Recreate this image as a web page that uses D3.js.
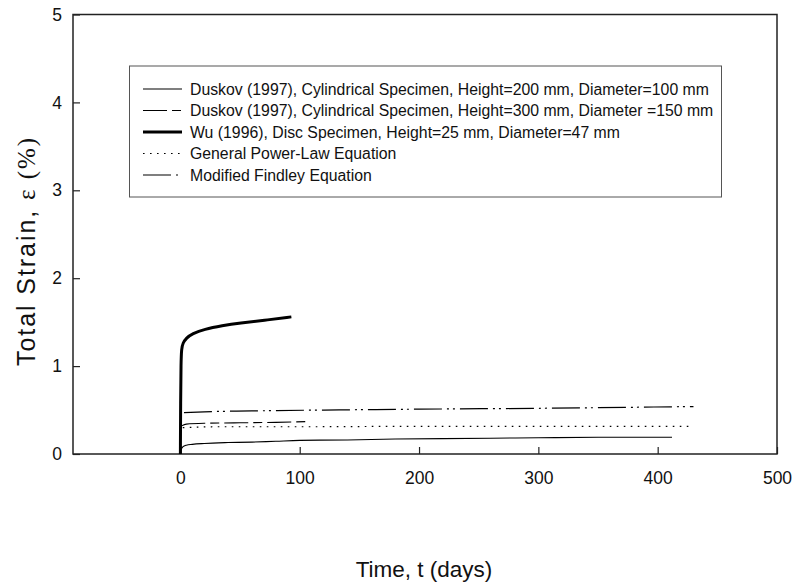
<!DOCTYPE html>
<html>
<head>
<meta charset="utf-8">
<script src="https://cdn.jsdelivr.net/npm/d3@7"></script>
<style>
  body { margin: 0; background: #fff; }
  svg { display: block; font-family: "Liberation Sans", Arial, sans-serif; }
</style>
</head>
<body>
<svg id="chart" width="794" height="584"></svg>
<script>
// series values: [time (days), strain (%)]
const duskov200 = [[0.3, 0.0], [0.5, 0.05], [2, 0.08], [5, 0.1], [10, 0.11], [20, 0.12], [40, 0.13], [60, 0.135],
  [80, 0.145], [100, 0.155], [140, 0.16], [180, 0.17], [220, 0.175], [260, 0.18], [300, 0.185], [350, 0.19], [412, 0.19]];
const duskov300 = [[1, 0.32], [5, 0.34], [20, 0.35], [50, 0.355], [80, 0.36], [108, 0.37]];
const wu1996 = [[0, 0], [0.2, 0.6], [0.5, 1.05], [1, 1.2], [2, 1.26], [5, 1.32], [10, 1.37], [20, 1.42],
  [35, 1.46], [50, 1.49], [70, 1.52], [93, 1.56]];
const powerLaw = [[2, 0.3], [30, 0.31], [100, 0.31], [200, 0.315], [300, 0.315], [430, 0.315]];
const findley = [[3, 0.47], [20, 0.48], [60, 0.49], [120, 0.5], [200, 0.51], [300, 0.52], [430, 0.54]];

const legendLabels = [
  'Duskov (1997), Cylindrical Specimen, Height=200 mm, Diameter=100 mm',
  'Duskov (1997), Cylindrical Specimen, Height=300 mm, Diameter =150 mm',
  'Wu (1996), Disc Specimen, Height=25 mm, Diameter=47 mm',
  'General Power-Law Equation',
  'Modified Findley Equation'
];
const xTicks = [0, 100, 200, 300, 400, 500];
const yTicks = [0, 1, 2, 3, 4, 5];

const series = [
  { data: duskov200, width: 1.1, dash: null },
  { data: duskov300, width: 1.1, dash: '24,5,9,5' },
  { data: wu1996, width: 3, dash: null },
  { data: powerLaw, width: 1.2, dash: '1.6,5.4' },
  { data: findley, width: 1.2, dash: '28,5,2,4,2,5' }
];

const svg = d3.select('#chart');
const plotLeft = 73, plotRight = 777, plotTop = 14.5, plotBottom = 454;

const x = d3.scaleLinear().domain([-90, 500]).range([plotLeft, plotRight]);
const y = d3.scaleLinear().domain([0, 5]).range([plotBottom, plotTop]);

// axes with inward ticks
const xAxis = svg.append('g')
  .attr('transform', `translate(0,${plotBottom})`)
  .call(d3.axisBottom(x).tickValues(xTicks).tickSize(-7).tickPadding(18).tickFormat(d3.format('d')));
xAxis.select('.domain').remove();
xAxis.selectAll('text').attr('font-size', 17.5).attr('fill', '#111');
xAxis.selectAll('line').attr('stroke', '#222').attr('stroke-width', 1.2);

const yAxis = svg.append('g')
  .attr('transform', `translate(${plotLeft},0)`)
  .call(d3.axisLeft(y).tickValues(yTicks).tickSize(-7).tickPadding(11).tickFormat(d3.format('d')));
yAxis.select('.domain').remove();
yAxis.selectAll('text').attr('font-size', 17.5).attr('fill', '#111');
yAxis.selectAll('line').attr('stroke', '#222').attr('stroke-width', 1.2);

// frame
svg.append('rect')
  .attr('x', plotLeft).attr('y', plotTop)
  .attr('width', plotRight - plotLeft).attr('height', plotBottom - plotTop)
  .attr('fill', 'none').attr('stroke', '#222').attr('stroke-width', 1.5);

// curves
const line = d3.line().x((d) => x(d[0])).y((d) => y(d[1])).curve(d3.curveMonotoneX);
const wuLine = d3.line().x((d) => x(d[0])).y((d) => y(d[1])).curve(d3.curveBasis);

series.forEach((s, i) => {
  svg.append('path')
    .datum(s.data)
    .attr('d', i === 2 ? wuLine : line)
    .attr('fill', 'none')
    .attr('stroke', '#000')
    .attr('stroke-width', s.width)
    .attr('stroke-dasharray', s.dash);
});

// legend
const lg = svg.append('g');
lg.append('rect')
  .attr('x', 129.5).attr('y', 66)
  .attr('width', 592).attr('height', 131)
  .attr('fill', '#fff').attr('stroke', '#555').attr('stroke-width', 1);

legendLabels.forEach((label, i) => {
  const ly = 89 + i * 21.5;
  lg.append('line')
    .attr('x1', 143).attr('x2', 182)
    .attr('y1', ly).attr('y2', ly)
    .attr('stroke', '#000')
    .attr('stroke-width', series[i].width)
    .attr('stroke-dasharray', series[i].dash);
  lg.append('text')
    .attr('x', 190).attr('y', ly + 5.5)
    .attr('font-size', 15.8).attr('fill', '#111')
    .text(label);
});

// axis titles
svg.append('text')
  .attr('x', 424).attr('y', 577)
  .attr('text-anchor', 'middle')
  .attr('font-size', 22.5).attr('fill', '#111')
  .text('Time, t (days)');

const yt = svg.append('text')
  .attr('transform', 'translate(35,252) rotate(-90)')
  .attr('text-anchor', 'middle')
  .attr('textLength', 228).attr('lengthAdjust', 'spacing')
  .attr('font-size', 25).attr('fill', '#111');
yt.append('tspan').text('Total Strain, ');
yt.append('tspan').attr('font-family', '"Liberation Serif", "DejaVu Serif", serif').text('ε (%)');
</script>
</body>
</html>
